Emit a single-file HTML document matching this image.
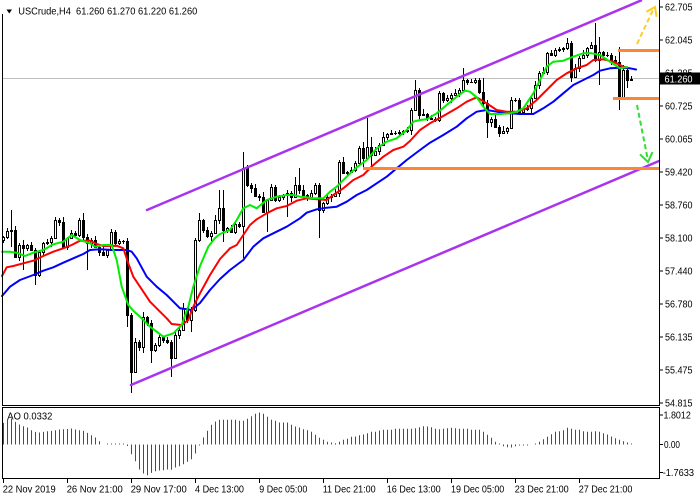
<!DOCTYPE html>
<html><head><meta charset="utf-8"><style>
html,body{margin:0;padding:0;background:#fff;}
svg{display:block;font-family:"Liberation Sans",Arial,sans-serif;}
text{font-size:10px;fill:#000;}
</style></head><body>
<svg id="s" width="700" height="500" viewBox="0 0 700 500" xmlns="http://www.w3.org/2000/svg">
<rect width="700" height="500" fill="#fff"/>
<line x1="2" y1="78.5" x2="659" y2="78.5" stroke="#c0c0c0" stroke-width="1"/>
<g id="candles"></g>
<g id="ao"></g>
<g fill="none" stroke-width="2" stroke-linejoin="round" stroke-linecap="round">
<polyline stroke="#0000ff" points="2,296 10,286.7 20,280 33.3,275 43.3,270.7 53.3,267.3 63.3,262.7 73.3,258.3 83.3,254 90,250 100,249.3 113.3,250 126.7,250 131.7,251.7 136.7,258.3 146.7,276.7 156.7,286.7 166.7,295 175,303.3 180,308.3 191.7,310 200,303 210,290 220,279 230,270 243.3,260 253.3,246.7 263.3,238.3 273.3,233.3 286.7,226.7 300,218.3 306.7,212.7 316.7,209.3 326.7,207.7 336.7,206.7 346.7,201.7 356.7,195 366.7,190 376.7,183.3 386.7,176.7 396.7,168.3 406.7,160 420,150 430,142.7 443.3,135 456.7,126.7 466.7,118.3 476.7,111.7 486.7,110 496.7,111.7 510,113.3 520,114 533.3,114 543.3,108.3 553.3,101.7 563.3,93.3 573.3,85 583.3,80 593.3,75 600,70.7 610,68.3 620,67.7 630,68.3 636,69.5"/>
<polyline stroke="#ff0000" points="2,276 6.7,267.3 13.3,266 23.3,263.3 33.3,260.7 43.3,256 53.3,251.7 63.3,248.3 71.7,245 80,240.7 90,240.7 96.7,244 103.3,246 116.7,245.7 123.3,248.3 128.3,263.3 133.3,276.7 140,286.7 150,301.7 160,311.7 166.7,318.3 171.7,324 181.7,325 188.3,320 193.3,306.7 200,293.3 210,275 220,259 230,248.3 236.7,245 243.3,235 250,225 256.7,219.3 266.7,213.3 276.7,208.3 286.7,206 296.7,200.7 306.7,198.3 316.7,199.3 326.7,200 333.3,195 343.3,188.3 353.3,180 363.3,175 373.3,165 383.3,156.7 393.3,150 403.3,146.7 410,141 420,130 430,123.3 443.3,116 456.7,108.3 466.7,101.7 476.7,97.3 486.7,103.3 496.7,110 506.7,111.7 516.7,111.7 526.7,108.3 536.7,100 546.7,90 556.7,80 566.7,73.3 576.7,68.3 586.7,65 593.3,60 603.3,59.3 613.3,61.7 623.3,66.7 627,67.5"/>
<polyline stroke="#00ee00" points="2,251.7 10,251.7 16.7,252.7 25,256 33.3,252.7 43.3,250 53.3,244.3 63.3,241.7 71.7,235 80,240 90,243.3 95,246.7 103.3,245 111.7,245 116.7,260 121.7,286.7 128.3,305 133.3,310.7 140,316.7 150,326.7 156.7,331.7 163.3,336.7 173.3,333.3 181.7,325 188.3,306.7 193.3,286.7 200,266 208.3,246.7 215,238 220,234 230,230 236.7,220 243.3,208.3 250,205 256.7,208.3 266.7,200 276.7,196.7 286.7,195 293.3,195 300,196.7 306.7,197.3 313.3,198.3 323.3,198.3 330,191.7 336.7,186.7 346.7,176.7 356.7,167.3 366.7,160 376.7,148.3 386.7,141.7 396.7,138.3 406.7,130 413.3,121.7 420,120 426.7,119.3 436.7,113.3 446.7,105 456.7,96.7 465,90.7 470,91.7 476.7,97.3 483.3,106.7 490,114 500,114 510,113.3 516.7,111.7 523.3,108.3 533.3,93.3 540,80 546.7,66.7 553.3,61.7 563.3,60.7 573.3,56.7 583.3,53.3 591.7,53.3 600,55 610,61.7 620,68.3 627,67"/>
</g>
<g stroke="#a933ee" stroke-width="2.5" stroke-linecap="round">
<line x1="147" y1="210" x2="641" y2="0.5"/>
<line x1="131" y1="385" x2="659" y2="161"/>
</g>
<g stroke="#ff8533" stroke-width="3">
<line x1="618" y1="50.5" x2="659" y2="50.5"/>
<line x1="613" y1="98.5" x2="659" y2="98.5"/>
<line x1="363" y1="168.5" x2="659" y2="168.5"/>
</g>
<g fill="none" stroke-width="2">
<line x1="637" y1="44" x2="653" y2="10" stroke="#ffcc22" stroke-dasharray="5,3"/>
<polyline points="646.3,11.9 655,7 656.6,16.8" stroke="#ffcc22"/>
<line x1="637" y1="105" x2="647.5" y2="158" stroke="#33dd33" stroke-dasharray="5,3"/>
<polyline points="640,154.4 648,162 652.5,152" stroke="#33dd33"/>
</g>
<g stroke="#000" stroke-width="1" fill="none">
<line x1="2.5" y1="14" x2="2.5" y2="405.5"/>
<line x1="659.5" y1="0" x2="659.5" y2="405.5"/>
<line x1="2" y1="405.5" x2="660" y2="405.5"/>
<rect x="2.5" y="407.5" width="657" height="71"/>
<line x1="659.5" y1="7" x2="663" y2="7"/>
<line x1="659.5" y1="40" x2="663" y2="40"/>
<line x1="659.5" y1="73" x2="663" y2="73"/>
<line x1="659.5" y1="106" x2="663" y2="106"/>
<line x1="659.5" y1="139" x2="663" y2="139"/>
<line x1="659.5" y1="172" x2="663" y2="172"/>
<line x1="659.5" y1="205" x2="663" y2="205"/>
<line x1="659.5" y1="238" x2="663" y2="238"/>
<line x1="659.5" y1="271" x2="663" y2="271"/>
<line x1="659.5" y1="304" x2="663" y2="304"/>
<line x1="659.5" y1="337" x2="663" y2="337"/>
<line x1="659.5" y1="370" x2="663" y2="370"/>
<line x1="659.5" y1="403" x2="663" y2="403"/>
<line x1="659.5" y1="415" x2="663" y2="415"/>
<line x1="659.5" y1="444.5" x2="663" y2="444.5"/>
<line x1="659.5" y1="472.5" x2="663" y2="472.5"/>
<line x1="3.5" y1="479" x2="3.5" y2="483"/>
<line x1="67.5" y1="479" x2="67.5" y2="483"/>
<line x1="131.5" y1="479" x2="131.5" y2="483"/>
<line x1="195.5" y1="479" x2="195.5" y2="483"/>
<line x1="259.5" y1="479" x2="259.5" y2="483"/>
<line x1="323.5" y1="479" x2="323.5" y2="483"/>
<line x1="387.5" y1="479" x2="387.5" y2="483"/>
<line x1="451.5" y1="479" x2="451.5" y2="483"/>
<line x1="515.5" y1="479" x2="515.5" y2="483"/>
<line x1="579.5" y1="479" x2="579.5" y2="483"/>
</g>
<polygon points="6.5,9.5 12,9.5 9.25,13.5" fill="#000"/>
<text x="18.3" y="14.5" textLength="179" lengthAdjust="spacingAndGlyphs">USCrude,H4&#160; 61.260 61.270 61.220 61.260</text>
<text x="7.3" y="419.6" textLength="45" lengthAdjust="spacingAndGlyphs">AO 0.0332</text>
<g>
<text x="665" y="10.5" textLength="27.5" lengthAdjust="spacingAndGlyphs">62.705</text>
<text x="665" y="43.5" textLength="27.5" lengthAdjust="spacingAndGlyphs">62.045</text>
<text x="665" y="76.5" textLength="27.5" lengthAdjust="spacingAndGlyphs">61.385</text>
<text x="665" y="109.5" textLength="27.5" lengthAdjust="spacingAndGlyphs">60.725</text>
<text x="665" y="142.5" textLength="27.5" lengthAdjust="spacingAndGlyphs">60.065</text>
<text x="665" y="175.5" textLength="27.5" lengthAdjust="spacingAndGlyphs">59.420</text>
<text x="665" y="208.5" textLength="27.5" lengthAdjust="spacingAndGlyphs">58.760</text>
<text x="665" y="241.5" textLength="27.5" lengthAdjust="spacingAndGlyphs">58.100</text>
<text x="665" y="274.5" textLength="27.5" lengthAdjust="spacingAndGlyphs">57.440</text>
<text x="665" y="307.5" textLength="27.5" lengthAdjust="spacingAndGlyphs">56.780</text>
<text x="665" y="340.5" textLength="27.5" lengthAdjust="spacingAndGlyphs">56.135</text>
<text x="665" y="373.5" textLength="27.5" lengthAdjust="spacingAndGlyphs">55.475</text>
<text x="665" y="406.5" textLength="27.5" lengthAdjust="spacingAndGlyphs">54.815</text>
<text x="663.5" y="418.5" textLength="27.3" lengthAdjust="spacingAndGlyphs">1.8012</text>
<text x="664" y="448" textLength="16" lengthAdjust="spacingAndGlyphs">0.00</text>
<text x="662.7" y="476" textLength="31.3" lengthAdjust="spacingAndGlyphs">-1.7633</text>
</g>
<rect x="660" y="72.5" width="40" height="12" fill="#000"/>
<text x="664.5" y="82.3" textLength="28" lengthAdjust="spacingAndGlyphs" style="fill:#fff">61.260</text>
<g>
<text x="2.7" y="492.3" textLength="53" lengthAdjust="spacingAndGlyphs">22 Nov 2019</text>
<text x="66.7" y="492.3" textLength="56" lengthAdjust="spacingAndGlyphs">26 Nov 21:00</text>
<text x="130.7" y="492.3" textLength="56" lengthAdjust="spacingAndGlyphs">29 Nov 17:00</text>
<text x="195" y="492.3" textLength="49" lengthAdjust="spacingAndGlyphs">4 Dec 13:00</text>
<text x="259.3" y="492.3" textLength="48" lengthAdjust="spacingAndGlyphs">9 Dec 05:00</text>
<text x="322.7" y="492.3" textLength="53" lengthAdjust="spacingAndGlyphs">11 Dec 21:00</text>
<text x="386.7" y="492.3" textLength="54" lengthAdjust="spacingAndGlyphs">16 Dec 13:00</text>
<text x="451" y="492.3" textLength="53.3" lengthAdjust="spacingAndGlyphs">19 Dec 05:00</text>
<text x="514.7" y="492.3" textLength="54" lengthAdjust="spacingAndGlyphs">23 Dec 21:00</text>
<text x="578.7" y="492.3" textLength="53.7" lengthAdjust="spacingAndGlyphs">27 Dec 21:00</text>
</g>
</svg>
<script>
(function(){
var C=[237,231,230,257,245,248,245,250,275,252,
243,242,238,220,222,247,238,233,235,220,
237,243,240,247,252,255,250,232,243,241,
241,315,372,342,347,317,323,350,345,337,
340,342,358,335,330,308,320,310,240,220,
230,236,233,220,208,230,228,232,224,226,
168,185,188,196,197,212,200,187,200,197,
195,193,197,185,190,195,198,193,185,210,
203,197,196,193,162,173,172,170,163,148,
158,147,155,151,145,137,134,133,133,132,
131,130,110,90,115,114,118,119,120,93,
100,98,95,93,90,80,82,82,80,92,
103,122,119,127,133,131,128,100,100,112,
109,108,98,85,73,72,53,55,50,49,
48,43,77,68,58,55,48,45,60,52,
55,55,60,62,98,70,80,79];
var H={2:210,13:217,14:218,20:213,35:312,49:213,53:215,54:190,55:190,60:152,73:177,74:168,90:142,91:118,92:137,103:80,115:68,120:78,141:38,142:41,148:23,149:37,154:47};
var L={2:247,5:270,8:285,21:270,31:327,32:393,35:353,37:363,42:377,47:332,55:242,60:258,66:232,71:217,79:238,90:168,92:167,121:138,142:82,149:85,154:110,155:100,156:88};
var s='';
for(var i=0;i<C.length;i++){
 var o=i==0?240:C[i-1], c=C[i];
 var top=Math.min(o,c), bot=Math.max(o,c);
 var d1=[1,3,2,4,2,5,1,3,2,2][i%10], d2=[3,1,4,2,2,1,5,2,3,1][(i*3)%10];
 var hi=(H[i]!==undefined)?H[i]:top-d1;
 var lo=(L[i]!==undefined)?L[i]:bot+d2;
 var cx=3.5+4*i;
 s+='<line x1="'+cx+'" x2="'+cx+'" y1="'+hi+'" y2="'+lo+'" stroke="#000" stroke-width="1"/>';
 if(bot-top<1){
  s+='<line x1="'+(cx-1.5)+'" x2="'+(cx+1.5)+'" y1="'+(top+0.5)+'" y2="'+(top+0.5)+'" stroke="#000" stroke-width="1"/>';
 } else {
  s+='<rect x="'+(cx-1)+'" y="'+(top+0.5)+'" width="2" height="'+(bot-top)+'" fill="'+(c>o?'#000':'#fff')+'" stroke="#000" stroke-width="1"/>';
 }
}
document.getElementById('candles').innerHTML=s;
var A=[21.6,25,26,22.6,20,18.3,17,14.3,12.6,12,
12.6,13.3,13.6,14.3,15,15.3,15.5,16,15,14.3,
13.6,11.6,9.3,7,3.3,0,0.7,0.7,0.7,0.7,
0.7,-1.5,-9.7,-16.7,-25,-29,-30.7,-28.4,-26.7,-26,
-25.7,-25,-25.3,-23,-21.7,-19.7,-17.3,-14.7,-9,-0.7,
7,13.7,19.7,23,24.7,24.7,24.7,24.7,24.7,23.7,
23.7,25.7,28.3,30.7,32,30.7,27.7,24.7,23.7,22,
22,22,19.7,18,17,15.3,14.3,12.7,9.7,6.7,
4.7,2.7,2,1.3,2.7,4.7,5.7,7.7,8,9.3,
10,11.3,12.7,12.7,14,14.7,14.7,14.7,15.7,15.7,
15.7,15.7,15.7,16.3,17.3,18.3,18,17.3,15.7,15.3,
15.7,16.3,16.7,16.3,15.7,15.7,15.7,14.7,14.7,14.7,
12.7,9.7,6.7,2.7,0.7,-1.7,-2.7,-3,-1.7,-1,
-0.7,-0.7,0,0.7,2.7,5.3,7.7,10.3,12.7,13.3,
14.3,16.7,15.7,14.7,14.7,13.3,12.7,12.7,13.3,12.7,
11.3,10,8,6.3,4.7,3.3,2,1];
var K="gggrrrrrrr"+"ggggggggrr"+"rrrrrrrrrg"+"grrrrrrggg"+"ggrggggggg"+"ggggggggrr"+"rggggrrrrr"+"rrrrrrrrrr"+"rrrrgggggg"+"gggggggggr"+"rrrggggrrr"+"gggrrrrrrr"+"rrrrrrrrgg"+"gggggggggg"+"ggrrrrrggr"+"rrrrrrgr";
var t='';
for(var j=0;j<A.length;j++){
 var h=A[j]; if(h===0) continue;
 if(Math.abs(h)<1) h=h>0?1:-1;
 var x=3.5+4*j;
 t+='<line x1="'+x+'" x2="'+x+'" y1="444.5" y2="'+(444.5-h)+'" stroke="'+(K[j]=='g'?'#008000':'#ff0000')+'" stroke-width="1"/>';
}
document.getElementById('ao').innerHTML=t;
})();
</script>
</body></html>
